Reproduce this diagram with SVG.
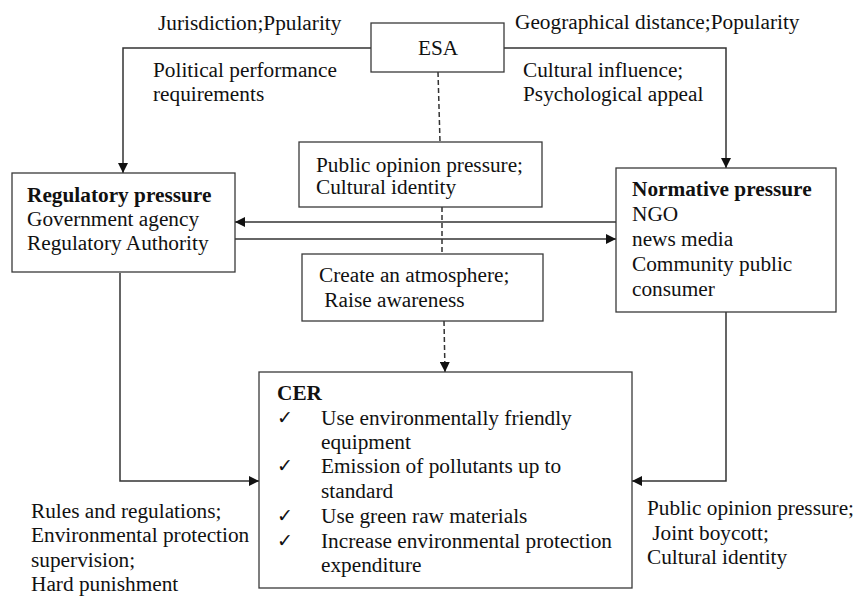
<svg xmlns="http://www.w3.org/2000/svg" width="856" height="596" viewBox="0 0 856 596">
<style>
text{font-family:"Liberation Serif","Times New Roman",serif;font-size:21.3px;fill:#111}
.b{font-weight:bold}
.box{fill:#fff;stroke:#3a3a3a;stroke-width:1.3}
.ln{fill:none;stroke:#333;stroke-width:1.5}
.dash{fill:none;stroke:#333;stroke-width:1.5;stroke-dasharray:5 3}
.ck{font-family:"DejaVu Sans",sans-serif;font-size:19px}
</style>
<defs>
<marker id="ah" viewBox="0 0 10 10" refX="10" refY="5" markerWidth="10" markerHeight="10" markerUnits="userSpaceOnUse" orient="auto">
<path d="M0,0 L10,5 L0,10 Z" fill="#111"/>
</marker>
</defs>
<g id="connectors">
<path class="ln" d="M371,48 H123 V173" marker-end="url(#ah)"/>
<path class="ln" d="M504,48 H726 V168" marker-end="url(#ah)"/>
<path class="ln" d="M616,222 H235" marker-end="url(#ah)"/>
<path class="ln" d="M235,239 H616" marker-end="url(#ah)"/>
<path class="ln" d="M120,273 V481 H259" marker-end="url(#ah)"/>
<path class="ln" d="M726,312 V481 H632" marker-end="url(#ah)"/>
<path class="dash" d="M438,72 L440,142"/>
<path class="dash" d="M442,207 L442,254"/>
<path class="dash" d="M444,321 L445,372" marker-end="url(#ah)"/>
</g>
<g id="labels">
<text x="158" y="30">Jurisdiction;Ppularity</text>
<text x="515" y="29">Geographical distance;Popularity</text>
<text x="153" y="77">Political performance</text>
<text x="153" y="101">requirements</text>
<text x="523" y="77">Cultural influence;</text>
<text x="523" y="101">Psychological appeal</text>
<text x="31" y="518">Rules and regulations;</text>
<text x="31" y="542">Environmental protection</text>
<text x="31" y="567">supervision;</text>
<text x="31" y="591">Hard punishment</text>
<text x="647" y="515">Public opinion pressure;</text>
<text x="647" y="540" xml:space="preserve"> Joint boycott;</text>
<text x="647" y="564">Cultural identity</text>
</g>
<g id="esa">
<rect class="box" x="371" y="23" width="133" height="49"/>
<text x="418" y="55">ESA</text>
</g>
<g id="public-opinion">
<rect class="box" x="299" y="142" width="243" height="65"/>
<text x="316" y="172">Public opinion pressure;</text>
<text x="316" y="194">Cultural identity</text>
</g>
<g id="atmosphere">
<rect class="box" x="302" y="254" width="241" height="67"/>
<text x="319" y="282">Create an atmosphere;</text>
<text x="319" y="307" xml:space="preserve"> Raise awareness</text>
</g>
<g id="regulatory">
<rect class="box" x="12" y="173" width="223" height="99"/>
<text class="b" x="27" y="202">Regulatory pressure</text>
<text x="27" y="226">Government agency</text>
<text x="27" y="250">Regulatory Authority</text>
</g>
<g id="normative">
<rect class="box" x="616" y="168" width="220" height="144"/>
<text class="b" x="632" y="196">Normative pressure</text>
<text x="632" y="221">NGO</text>
<text x="632" y="246">news media</text>
<text x="632" y="271">Community public</text>
<text x="632" y="296">consumer</text>
</g>
<g id="cer">
<rect class="box" x="259" y="372" width="373" height="216"/>
<text class="b" x="277" y="400">CER</text>
<text class="ck" x="277" y="424">✓</text>
<text class="ck" x="277" y="472">✓</text>
<text class="ck" x="277" y="522">✓</text>
<text class="ck" x="277" y="547">✓</text>
<text x="321" y="425">Use environmentally friendly</text>
<text x="321" y="449">equipment</text>
<text x="321" y="473">Emission of pollutants up to</text>
<text x="321" y="498">standard</text>
<text x="321" y="523">Use green raw materials</text>
<text x="321" y="548">Increase environmental protection</text>
<text x="321" y="572">expenditure</text>
</g>
</svg>
